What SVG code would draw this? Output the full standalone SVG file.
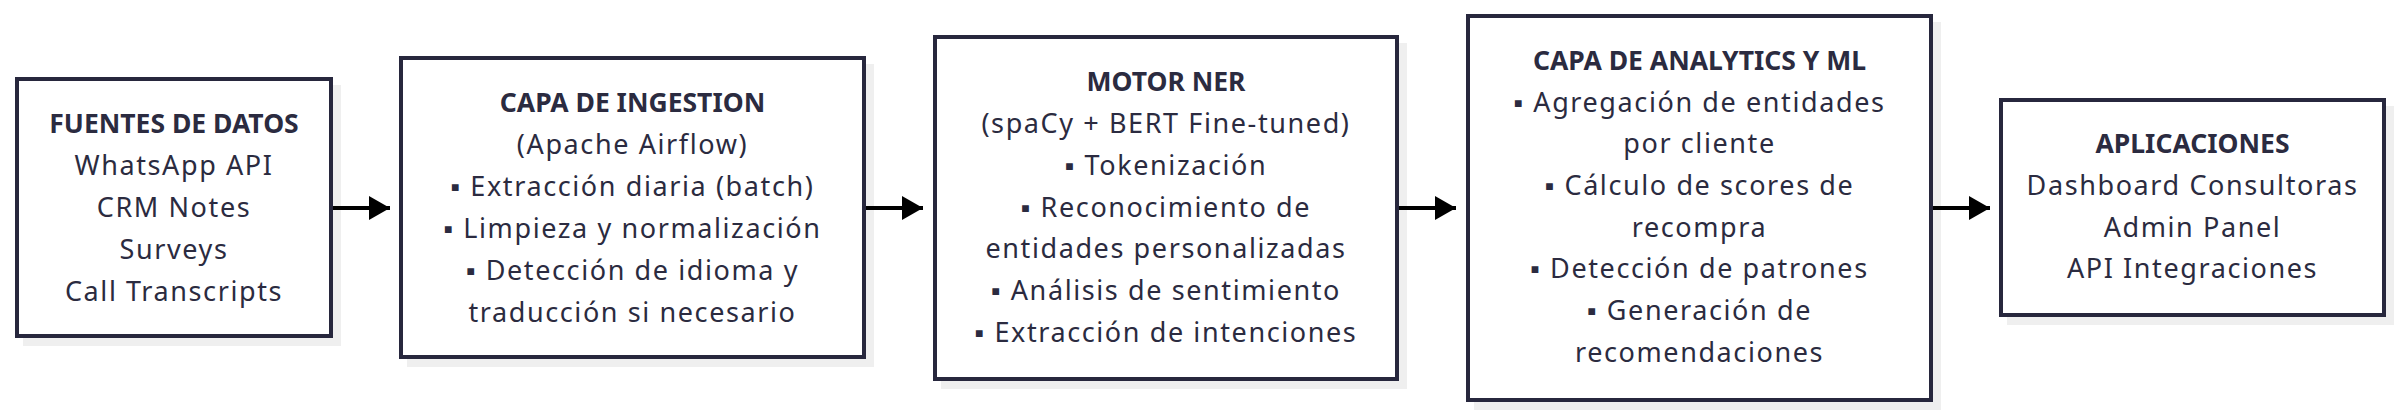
<svg xmlns="http://www.w3.org/2000/svg" width="2402" height="416" viewBox="0 0 2402 416">
<style>
.shadow{fill:#efefef;stroke:none}
.box{fill:#ffffff;stroke:#27273d;stroke-width:4}
text{font-family:"Noto Sans","Open Sans",sans-serif;font-size:27px;letter-spacing:1.6px;fill:#2b2b40;text-anchor:middle}
text.t{font-weight:bold;font-size:26.5px;letter-spacing:0}
.edge{stroke:#000;stroke-width:4;fill:none}
</style>
<defs>
<marker id="ah" markerUnits="userSpaceOnUse" markerWidth="22" markerHeight="24" refX="21" refY="12" orient="auto">
<path d="M0,0 L21,12 L0,24 Z" fill="#000"/>
</marker>
</defs>
<rect width="2402" height="416" fill="#fff"/>
<g id="fuentes">
<rect class="shadow" x="23" y="85" width="318" height="261"/>
<rect class="box" x="17" y="79" width="314" height="257"/>
<text class="t" x="174" y="133">FUENTES DE DATOS</text>
<text x="174" y="175">WhatsApp API</text>
<text x="174" y="217">CRM Notes</text>
<text x="174" y="259">Surveys</text>
<text x="174" y="301">Call Transcripts</text>
</g>
<g id="ingestion">
<rect class="shadow" x="407" y="64" width="467" height="303"/>
<rect class="box" x="401" y="58" width="463" height="299"/>
<text class="t" x="632.5" y="112">CAPA DE INGESTION</text>
<text x="632.5" y="154">(Apache Airflow)</text>
<text x="632.5" y="196">▪ Extracción diaria (batch)</text>
<text x="632.5" y="238">▪ Limpieza y normalización</text>
<text x="632.5" y="280">▪ Detección de idioma y</text>
<text x="632.5" y="322">traducción si necesario</text>
</g>
<g id="ner">
<rect class="shadow" x="941" y="43" width="466" height="346"/>
<rect class="box" x="935" y="37" width="462" height="342"/>
<text class="t" x="1166" y="91">MOTOR NER</text>
<text x="1166" y="133">(spaCy + BERT Fine-tuned)</text>
<text x="1166" y="175">▪ Tokenización</text>
<text x="1166" y="217">▪ Reconocimiento de</text>
<text x="1166" y="258">entidades personalizadas</text>
<text x="1166" y="300">▪ Análisis de sentimiento</text>
<text x="1166" y="342">▪ Extracción de intenciones</text>
</g>
<g id="analytics">
<rect class="shadow" x="1474" y="22" width="467" height="388"/>
<rect class="box" x="1468" y="16" width="463" height="384"/>
<text class="t" x="1699.5" y="70">CAPA DE ANALYTICS Y ML</text>
<text x="1699.5" y="112">▪ Agregación de entidades</text>
<text x="1699.5" y="153">por cliente</text>
<text x="1699.5" y="195">▪ Cálculo de scores de</text>
<text x="1699.5" y="237">recompra</text>
<text x="1699.5" y="278">▪ Detección de patrones</text>
<text x="1699.5" y="320">▪ Generación de</text>
<text x="1699.5" y="362">recomendaciones</text>
</g>
<g id="aplicaciones">
<rect class="shadow" x="2007" y="106" width="387" height="219"/>
<rect class="box" x="2001" y="100" width="383" height="215"/>
<text class="t" x="2192.5" y="153">APLICACIONES</text>
<text x="2192.5" y="195">Dashboard Consultoras</text>
<text x="2192.5" y="237">Admin Panel</text>
<text x="2192.5" y="278">API Integraciones</text>
</g>
<g id="connectors">
<line class="edge" x1="333" y1="208" x2="390" y2="208" marker-end="url(#ah)"/>
<line class="edge" x1="866" y1="208" x2="923" y2="208" marker-end="url(#ah)"/>
<line class="edge" x1="1399" y1="208" x2="1456" y2="208" marker-end="url(#ah)"/>
<line class="edge" x1="1933" y1="208" x2="1990" y2="208" marker-end="url(#ah)"/>
</g>
</svg>
